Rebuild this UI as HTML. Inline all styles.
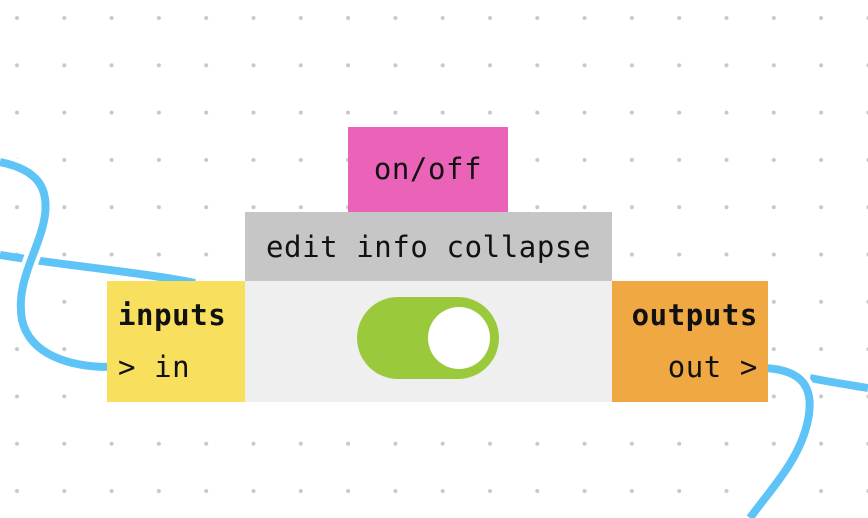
<!DOCTYPE html>
<html><head><meta charset="utf-8"><style>
body{margin:0;width:868px;height:518px;overflow:hidden;background:#fff;position:relative;font-family:"DejaVu Sans Mono","Liberation Mono",monospace;}
.b{position:absolute;box-sizing:border-box;font-size:29px;color:#111;letter-spacing:0.6px;white-space:nowrap}
</style></head><body>
<svg width="868" height="518" style="position:absolute;left:0;top:0">
<defs><pattern id="d" x="-6.5" y="-5.5" width="47.3" height="47.3" patternUnits="userSpaceOnUse"><circle cx="23.5" cy="23.5" r="2" fill="#c8c8c8"/></pattern></defs>
<rect width="868" height="518" fill="url(#d)"/>
<g fill="none" stroke="#5ec4f8" stroke-width="8" stroke-linecap="butt">
<path d="M0,255 C60,265 140,272 195,283"/>
<path d="M0,162 C40,170 48,190 45,215 C40,250 15,280 22,320 C30,355 70,367 110,367" stroke="#fff" stroke-width="16"/>
<path d="M0,162 C40,170 48,190 45,215 C40,250 15,280 22,320 C30,355 70,367 110,367"/>
<path d="M810,378 C830,382 850,385 868,388"/>
<path d="M765,368 C800,370 815,385 808,420 C800,460 770,490 750,518" stroke="#fff" stroke-width="16"/>
<path d="M765,368 C800,370 815,385 808,420 C800,460 770,490 750,518"/>
</g>
</svg>
<div class="b" style="left:348px;top:127px;width:160px;height:85px;background:#ea63b9;text-align:center;line-height:84px">on/off</div>
<div class="b" style="left:245px;top:212px;width:367px;height:69px;background:#c6c6c6;text-align:center;line-height:70px">edit info collapse</div>
<div class="b" style="left:245px;top:281px;width:367px;height:121px;background:#efefef"></div>
<div style="position:absolute;left:357px;top:297px;width:142px;height:82px;border-radius:41px;background:#9aca3c"></div>
<div style="position:absolute;left:428px;top:307px;width:62px;height:62px;border-radius:50%;background:#fff"></div>
<div class="b" style="left:107px;top:281px;width:138px;height:121px;background:#f8df5d;padding-left:11px">
<div style="font-weight:bold;position:absolute;top:17px">inputs</div>
<div style="position:absolute;top:69px">&gt; in</div></div>
<div class="b" style="left:612px;top:281px;width:156px;height:121px;background:#f0a843">
<div style="font-weight:bold;position:absolute;top:17px;right:10px">outputs</div>
<div style="position:absolute;top:69px;right:10px">out &gt;</div></div>
</body></html>
